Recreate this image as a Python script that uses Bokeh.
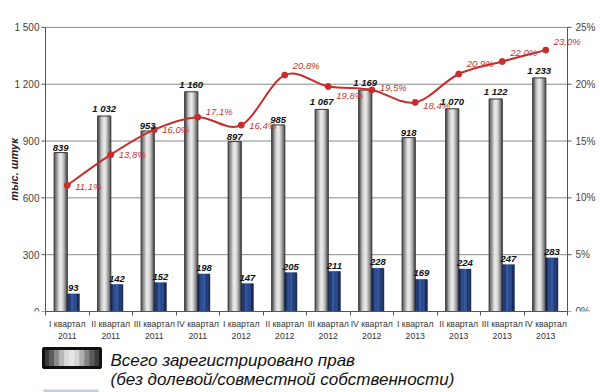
import numpy as np
from bokeh.plotting import figure
from bokeh.models import Range1d, FixedTicker, LabelSet, Label, ColumnDataSource
from bokeh.layouts import column
from bokeh.embed import file_html
from bokeh.resources import INLINE
from bokeh.core.properties import value

# ---------------- data ----------------
quarters = ["I квартал\n2011", "II квартал\n2011", "III квартал\n2011", "IV квартал\n2011",
            "I квартал\n2012", "II квартал\n2012", "III квартал\n2012", "IV квартал\n2012",
            "I квартал\n2013", "II квартал\n2013", "III квартал\n2013", "IV квартал\n2013"]
total_rights = [839, 1032, 953, 1160, 897, 985, 1067, 1169, 918, 1070, 1122, 1233]
shared_rights = [93, 142, 152, 198, 147, 205, 211, 228, 169, 224, 247, 283]
share_pct = [11.1, 13.8, 16.0, 17.1, 16.4, 20.8, 19.8, 19.5, 18.4, 20.9, 22.0, 23.0]
left_ticks = [0, 300, 600, 900, 1200, 1500]
left_tick_labels = ["0", "300", "600", "900", "1 200", "1 500"]
right_ticks = [0, 5, 10, 15, 20, 25]
right_tick_labels = ["0%", "5%", "10%", "15%", "20%", "25%"]
legend_lines = ["Всего зарегистрировано прав", "(без долевой/совместной собственности)"]
y_title = "тыс. штук"

# ---------------- styles ----------------
FONT = value("Liberation Sans")
RED = "#c62d2d"
AXIS = "#555555"
GW = 0.30   # gray bar width (category units)
BW = 0.28   # blue bar width
gray_shades = ["#555555", "#777777", "#a2a2a2", "#cbcbcb", "#e4e4e4", "#e8e8e8",
               "#d6d6d6", "#b4b4b4", "#8c8c8c", "#5e5e5e"]
blue_shades = ["#15264f", "#1b3169", "#22407f", "#294b92", "#2b4f98", "#284a90",
               "#213d7b", "#1a3166", "#142652"]
pct_dy = [-1, 0, 0, 6, 0, 10, -9, 2, -3, 10, 9, 9]   # label vertical nudges (px, up)

n_cat = len(quarters)
xs = np.arange(n_cat)
x_lo, x_hi = -0.5, n_cat - 0.5            # plot-area extent in category units
px_x = 43.5                                # pixels per category
left_room, right_room = 45, 31             # pixels outside the plot area (axis texts)
Y_MAX, PCT_MAX = 1500, 25
px_y = 286 / Y_MAX                         # pixels per unit (left scale)
top_room = 17                              # pixels above the plot area
y_end = Y_MAX + top_room / px_y
tick_x = 4 / px_x

p = figure(width=600, height=343,
           x_range=Range1d(x_lo - left_room / px_x, x_hi + right_room / px_x),
           y_range=Range1d(0, y_end), y_axis_location=None,
           output_backend="svg", toolbar_location=None,
           min_border_left=0, min_border_right=2, min_border_top=10, min_border_bottom=30,
           outline_line_color=None, background_fill_color="white")
p.extra_y_ranges = {"pct": Range1d(0, y_end * PCT_MAX / Y_MAX)}

# bottom axis
xaxis = p.below[0]
xaxis.ticker = FixedTicker(ticks=list(xs), minor_ticks=[i - 0.5 for i in range(n_cat + 1)])
xaxis.major_label_overrides = {int(i): q for i, q in zip(xs, quarters)}
xaxis.bounds = (x_lo, x_hi)
xaxis.major_tick_out = 0
xaxis.major_tick_in = 0
xaxis.minor_tick_out = 4
xaxis.minor_tick_in = 0
xaxis.axis_line_color = AXIS
xaxis.minor_tick_line_color = AXIS
xaxis.major_label_text_font = "Liberation Sans"
xaxis.major_label_text_font_size = "8.7px"
xaxis.major_label_text_color = "#333333"
xaxis.major_label_standoff = 3

p.xgrid.visible = False
p.ygrid.visible = False

# horizontal grid lines limited to the plot area
grid_y = left_ticks[1:]
p.segment(x0=[x_lo] * len(grid_y), x1=[x_hi] * len(grid_y), y0=grid_y, y1=grid_y,
          line_color="#8a8a8a", line_width=1)

# left (count) axis
nl = len(left_ticks)
p.segment(x0=[x_lo], x1=[x_lo], y0=[0], y1=[Y_MAX], line_color=AXIS, line_width=1)
p.segment(x0=[x_lo - tick_x] * nl, x1=[x_lo] * nl, y0=left_ticks, y1=left_ticks,
          line_color=AXIS, line_width=1)
src_l = ColumnDataSource(dict(x=[x_lo] * nl, y=left_ticks, t=left_tick_labels))
p.add_layout(LabelSet(x="x", y="y", text="t", source=src_l, x_offset=-6,
                      text_align="right", text_baseline="middle", text_font=FONT,
                      text_font_size="10px", text_color="#444444"))
p.add_layout(Label(x=x_lo - 32 / px_x, y=Y_MAX / 2, text=y_title, angle=np.pi / 2,
                   text_align="center", text_baseline="middle", text_font="Liberation Sans",
                   text_font_style="bold italic", text_font_size="11px", text_color="#222222"))

# right (percent) axis
nr = len(right_ticks)
p.segment(x0=[x_hi], x1=[x_hi], y0=[0], y1=[PCT_MAX], y_range_name="pct",
          line_color=AXIS, line_width=1)
p.segment(x0=[x_hi] * nr, x1=[x_hi + tick_x] * nr, y0=right_ticks, y1=right_ticks,
          y_range_name="pct", line_color=AXIS, line_width=1)
src_r = ColumnDataSource(dict(x=[x_hi] * nr, y=right_ticks, t=right_tick_labels))
p.add_layout(LabelSet(x="x", y="y", text="t", source=src_r, y_range_name="pct", x_offset=8,
                      text_align="left", text_baseline="middle", text_font=FONT,
                      text_font_size="10px", text_color="#444444"))

# gray bars (strips to mimic cylinder shading)
n = len(gray_shades)
for j, col in enumerate(gray_shades):
    left = xs - GW + j * GW / n
    p.quad(left=left, right=left + GW / n, bottom=0, top=total_rights,
           fill_color=col, line_color=col, line_width=0.5)
p.quad(left=xs - GW, right=xs, bottom=0, top=total_rights,
       fill_color=None, line_color="#3a3a3a", line_width=1)

# blue bars
n = len(blue_shades)
for j, col in enumerate(blue_shades):
    left = xs + j * BW / n
    p.quad(left=left, right=left + BW / n, bottom=0, top=shared_rights,
           fill_color=col, line_color=col, line_width=0.5)

# smooth share line (Catmull-Rom -> cubic bezier)
P = np.column_stack([xs.astype(float), np.array(share_pct)])
Pp = np.vstack([P[0], P, P[-1]])
x0, y0 = P[:-1, 0], P[:-1, 1]
x1, y1 = P[1:, 0], P[1:, 1]
c0 = Pp[1:-2] + (Pp[2:-1] - Pp[0:-3]) / 6.0
c1 = Pp[2:-1] - (Pp[3:] - Pp[1:-2]) / 6.0
p.bezier(x0=x0, y0=y0, x1=x1, y1=y1, cx0=c0[:, 0], cy0=c0[:, 1], cx1=c1[:, 0], cy1=c1[:, 1],
         line_color=RED, line_width=2, y_range_name="pct")
p.scatter(x=xs, y=share_pct, size=6, fill_color=RED, line_color=RED, y_range_name="pct")

# value labels
src_g = ColumnDataSource(dict(x=xs - GW / 2, y=total_rights,
                              t=[f"{v:,}".replace(",", " ") for v in total_rights]))
p.add_layout(LabelSet(x="x", y="y", text="t", source=src_g, text_align="center",
                      text_baseline="bottom", y_offset=2, text_font=FONT,
                      text_font_style="bold italic", text_font_size="9.5px", text_color="#111111"))
src_b = ColumnDataSource(dict(x=xs + BW / 2, y=shared_rights, t=[str(v) for v in shared_rights]))
p.add_layout(LabelSet(x="x", y="y", text="t", source=src_b, text_align="center",
                      text_baseline="bottom", y_offset=3, text_font=FONT,
                      text_font_style="bold italic", text_font_size="9.5px", text_color="#111111"))
src_p = ColumnDataSource(dict(x=xs, y=share_pct, dy=pct_dy,
                              t=[f"{v:.1f}".replace(".", ",") + "%" for v in share_pct]))
p.add_layout(LabelSet(x="x", y="y", text="t", source=src_p, y_range_name="pct",
                      x_offset=8, y_offset="dy", text_align="left", text_baseline="middle",
                      text_font=FONT, text_font_style="italic", text_font_size="9.5px",
                      text_color="#c0392b"))

# ---------------- legend figure ----------------
p2 = figure(width=600, height=49, x_range=Range1d(0, 598), y_range=Range1d(49, 0),
            output_backend="svg", toolbar_location=None,
            min_border_left=0, min_border_right=2, min_border_top=0, min_border_bottom=0,
            outline_line_color=None)
p2.axis.visible = False
p2.grid.visible = False
sw_shades = ["#3a3a3a", "#5e5e5e", "#8c8c8c", "#b8b8b8", "#dadada", "#e6e6e6",
             "#d6d6d6", "#b0b0b0", "#838383", "#5a5a5a", "#3c3c3c"]
L, R = 44.0, 99.0
w = (R - L) / len(sw_shades)
for j, col in enumerate(sw_shades):
    p2.quad(left=[L + j * w], right=[L + (j + 1) * w], top=[6], bottom=[23],
            fill_color=col, line_color=col, line_width=0.5)
p2.quad(left=[43], right=[100], top=[5], bottom=[24], fill_color=None,
        line_color="#111111", line_width=3)
p2.quad(left=[43], right=[98], top=[46], bottom=[49], fill_color="#c5ccd8", line_color=None)
p2.text(x=[110, 110], y=[17, 36], text=legend_lines, text_font=FONT, text_font_style="italic",
        text_font_size="17px", text_color="#111111", text_baseline="alphabetic")

layout = column(p, p2, spacing=0)
open("out.html", "w").write(file_html(layout, INLINE))
